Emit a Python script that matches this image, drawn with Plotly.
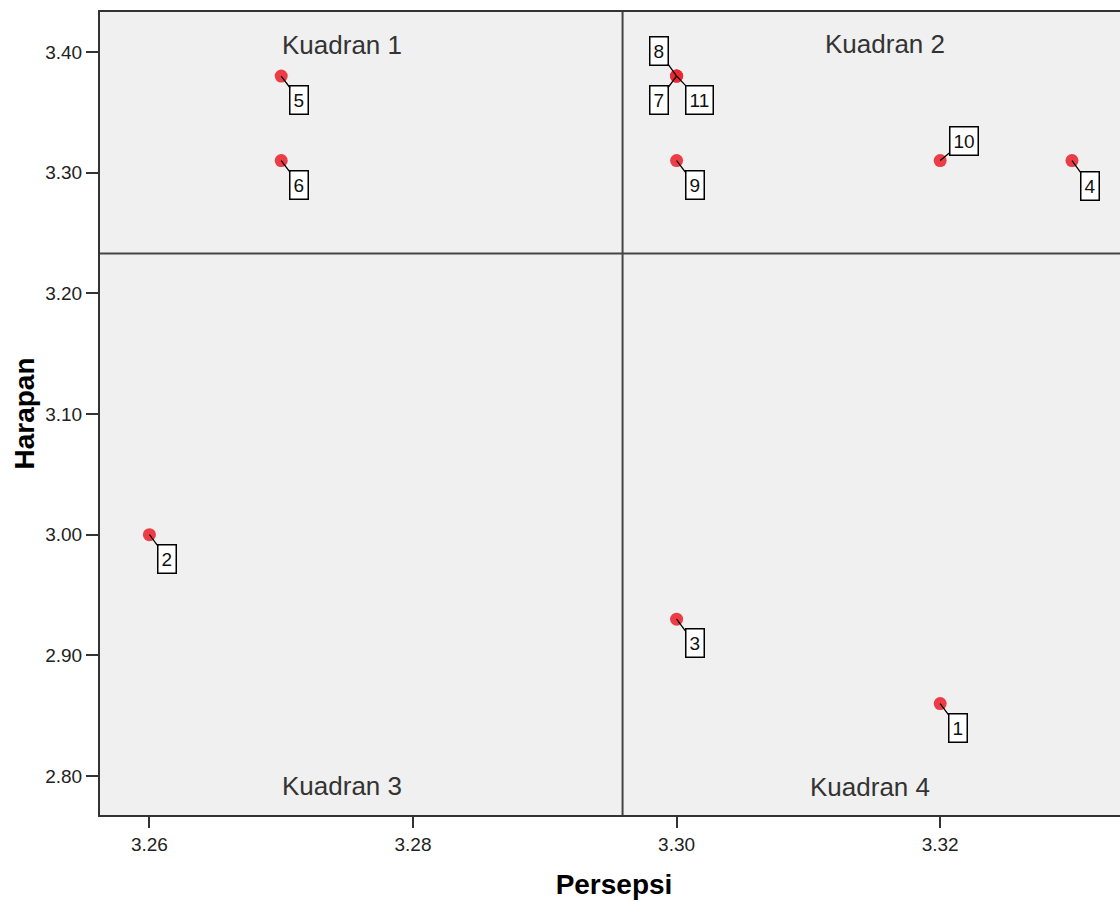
import plotly.graph_objects as go

labels = ["1", "2", "3", "4", "5", "6", "7", "8", "9", "10", "11"]
persepsi = [3.32, 3.26, 3.30, 3.33, 3.27, 3.27, 3.30, 3.30, 3.30, 3.32, 3.30]
harapan = [2.86, 3.00, 2.93, 3.31, 3.38, 3.31, 3.38, 3.38, 3.31, 3.31, 3.38]
# label offsets in pixels (ax, ay)
label_dx = [18, 18, 18, 18, 18, 18, -18, -18, 18, 24, 23]
label_dy = [24, 24, 24, 25, 24, 24, 24, -25, 24, -20, 24]

x_mean = 3.2959
y_mean = 3.2329
quad_names = ["Kuadran 1", "Kuadran 2", "Kuadran 3", "Kuadran 4"]
quad_x = [3.2746, 3.3158, 3.2746, 3.3147]
quad_y = [3.4058, 3.4066, 2.7917, 2.7909]

FONT = "Liberation Sans, Arial"

fig = go.Figure()
fig.add_trace(go.Scatter(
    x=persepsi, y=harapan, mode="markers",
    marker=dict(color="rgba(235,40,50,0.9)", size=13, line=dict(width=0)),
    showlegend=False, hoverinfo="skip"))

for xv, yv, lab, dx, dy in zip(persepsi, harapan, labels, label_dx, label_dy):
    fig.add_annotation(x=xv, y=yv, text=lab, showarrow=True, arrowhead=0,
                       arrowwidth=1.3, arrowcolor="black", ax=dx, ay=dy,
                       font=dict(family=FONT, size=19, color="#111111"),
                       bgcolor="white", bordercolor="black", borderwidth=1.5, borderpad=3)

for nm, qx, qy in zip(quad_names, quad_x, quad_y):
    fig.add_annotation(x=qx, y=qy, text=nm, showarrow=False,
                       font=dict(family=FONT, size=26, color="#333333"))

fig.add_shape(type="line", x0=x_mean, x1=x_mean, y0=0, y1=1, yref="paper",
              line=dict(color="#444444", width=2))
fig.add_shape(type="line", x0=0, x1=1, xref="paper", y0=y_mean, y1=y_mean,
              line=dict(color="#444444", width=2))

fig.update_layout(
    width=1130, height=901,
    margin=dict(l=100, r=0, t=12, b=86),
    paper_bgcolor="white", plot_bgcolor="#f0f0f0",
    font=dict(family=FONT, color="black"),
)
fig.update_xaxes(range=[3.25625, 3.33425], tickvals=[3.26, 3.28, 3.30, 3.32],
                 tickformat=".2f", showgrid=False, zeroline=False,
                 showline=True, linecolor="#333333", linewidth=2, mirror=True,
                 ticks="outside", ticklen=11, tickwidth=2, tickcolor="#333333",
                 tickfont=dict(size=19, color="#222222"),
                 title=dict(text="<b>Persepsi</b>", font=dict(size=28), standoff=21))
fig.update_yaxes(range=[2.7677, 3.4331], tickvals=[2.80, 2.90, 3.00, 3.10, 3.20, 3.30, 3.40],
                 tickformat=".2f", showgrid=False, zeroline=False,
                 showline=True, linecolor="#333333", linewidth=2, mirror=True,
                 ticks="outside", ticklen=12, tickwidth=2, tickcolor="#333333",
                 tickfont=dict(size=19, color="#222222"),
                 title=dict(text="<b>Harapan</b>", font=dict(size=28), standoff=2))

fig.write_html("out.html", config={"displayModeBar": False},
               post_script="document.body.style.margin='0';document.body.style.overflow='hidden';")
